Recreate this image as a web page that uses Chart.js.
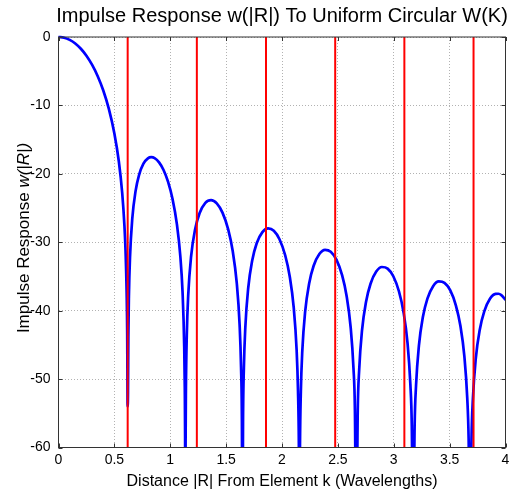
<!DOCTYPE html>
<html><head><meta charset="utf-8">
<script src="https://cdn.jsdelivr.net/npm/chart.js@4/dist/chart.umd.min.js"></script>
<style>html,body{margin:0;padding:0;background:#fff}#wrap{width:514px;height:495px;position:relative}</style>
</head><body><div id="wrap"><canvas id="c"></canvas></div>
<script>
// Distance |R| (wavelengths) and impulse response w(|R|) in dB
const distance = [
0, 0.05, 0.1, 0.15, 0.2, 0.25, 0.3, 0.35, 0.4, 0.45, 0.5, 0.54, 0.57, 0.59, 0.6, 0.61, 0.615, 0.6185,
0.622, 0.625, 0.63, 0.64, 0.66, 0.69, 0.72, 0.76, 0.8, 0.83, 0.86, 0.9, 0.94, 0.98, 1.02, 1.06, 1.09, 1.11, 1.125, 1.13, 1.133, 1.1352,
1.1373, 1.1403, 1.148, 1.1608, 1.1863, 1.2221, 1.263, 1.3141, 1.3652, 1.4163, 1.4674, 1.5185, 1.5593, 1.5951, 1.6207, 1.6334, 1.6411, 1.6462,
1.6513, 1.6589, 1.6717, 1.6972, 1.7329, 1.7736, 1.8246, 1.8756, 1.9266, 1.9775, 2.0285, 2.0693, 2.105, 2.1305, 2.1432, 2.1509, 2.1559,
2.161, 2.1687, 2.1814, 2.2069, 2.2425, 2.2832, 2.3342, 2.3851, 2.436, 2.4869, 2.5378, 2.5786, 2.6142, 2.6397, 2.6524, 2.6651,
2.6779, 2.6906, 2.716, 2.7517, 2.7924, 2.8433, 2.8942, 2.9451, 2.996, 3.0469, 3.0876, 3.1232, 3.1486, 3.1614, 3.1741,
3.1868, 3.1995, 3.225, 3.2606, 3.3013, 3.3522, 3.403, 3.4539, 3.5048, 3.5557, 3.5964, 3.632, 3.6574, 3.6701, 3.6829,
3.6956, 3.7083, 3.7337, 3.7693, 3.81, 3.8609, 3.9118, 3.9372, 3.9626, 4.0
];
const responseDb = [
0, -0.10, -0.42, -0.95, -1.72, -2.74, -4.05, -5.70, -7.79, -10.48, -14.10, -18.20, -22.78, -27.58, -31.29, -37.50, -43.61, -54.0,
-51.80, -43.88, -37.95, -32.15, -26.59, -22.49, -20.21, -18.52, -17.74, -17.57, -17.70, -18.32, -19.44, -21.15, -23.65, -27.43, -32.01, -37.25, -45.24, -51.16, -58.65, -75,
-59.37, -51.44, -43.58, -37.73, -32.10, -28.15, -25.72, -24.23, -23.83, -24.31, -25.67, -28.12, -31.32, -35.95, -42.07, -48.17, -56.18, -75,
-56.27, -48.37, -42.48, -36.76, -32.70, -30.15, -28.51, -27.97, -28.32, -29.56, -31.90, -35.01, -39.57, -45.64, -51.71, -59.71, -75,
-59.77, -51.86, -45.95, -40.18, -36.06, -33.44, -31.72, -31.10, -31.38, -32.54, -34.81, -37.88, -42.39, -48.43, -54.49, -75,
-54.61, -48.68, -42.89, -38.72, -36.06, -34.29, -33.62, -33.85, -34.97, -37.20, -40.22, -44.71, -50.73, -56.78, -75,
-56.88, -50.94, -45.13, -40.93, -38.24, -36.43, -35.73, -35.93, -37.01, -39.21, -42.21, -46.68, -52.68, -58.72, -75,
-58.81, -52.86, -47.04, -42.82, -40.11, -38.27, -37.55, -37.53, -37.72, -38.40
];
// Red vertical marker lines (distance, wavelengths)
const markerDistance = [0.619, 1.238, 1.857, 2.476, 3.095, 3.714];
// Axis ticks
const xTickValues = [0, 0.5, 1, 1.5, 2, 2.5, 3, 3.5, 4];
const yTickValues = [0, -10, -20, -30, -40, -50, -60];
// Texts
const titleText = 'Impulse Response w(|R|) To Uniform Circular W(K)';
const xTitleText = 'Distance |R| From Element k (Wavelengths)';
const yTitleParts = ['Impulse Response ', 'w(|R|)'];

const FONT = "'Liberation Sans', Arial, Helvetica, sans-serif";

const datasets = [];
markerDistance.forEach(r => datasets.push({
  data: [{x: r, y: 0}, {x: r, y: -60}],
  borderColor: '#ff0000', borderWidth: 2, pointRadius: 0, fill: false, order: 1, clip: 0
}));
datasets.push({
  data: distance.map((r, i) => ({x: r, y: responseDb[i]})),
  borderColor: '#0000ff', borderWidth: 2.7, pointRadius: 0, fill: false,
  cubicInterpolationMode: 'monotone', borderJoinStyle: 'round', borderCapStyle: 'round',
  order: 2, clip: {left: 0, right: 0, top: 3, bottom: 0}
});

const decor = {
  id: 'decor',
  afterDraw(chart) {
    const {ctx, chartArea: a, scales: {x, y}} = chart;
    ctx.save();
    ctx.strokeStyle = '#333';
    ctx.lineWidth = 1;
    ctx.setLineDash([]);
    ctx.strokeRect(a.left, a.top, a.right - a.left, a.bottom - a.top);
    ctx.beginPath();
    xTickValues.forEach(v => {
      const px = Math.round(x.getPixelForValue(v)) + 0.5;
      ctx.moveTo(px, a.bottom); ctx.lineTo(px, a.bottom - 4);
      ctx.moveTo(px, a.top); ctx.lineTo(px, a.top + 4);
    });
    yTickValues.forEach(v => {
      const py = Math.round(y.getPixelForValue(v)) + 0.5;
      ctx.moveTo(a.left, py); ctx.lineTo(a.left + 4, py);
      ctx.moveTo(a.right, py); ctx.lineTo(a.right - 4, py);
    });
    ctx.stroke();

    ctx.fillStyle = '#000';
    ctx.textBaseline = 'alphabetic';
    ctx.textAlign = 'center';
    const cx = (a.left + a.right) / 2;
    ctx.font = '20px ' + FONT;
    ctx.fillText(titleText, cx, 21.5);
    ctx.font = '16px ' + FONT;
    ctx.fillText(xTitleText, cx, 486);

    ctx.translate(29, 238);
    ctx.rotate(-Math.PI / 2);
    ctx.textAlign = 'left';
    const f1 = '17px ' + FONT, f2 = 'italic 17px ' + FONT;
    ctx.font = f1; const w1 = ctx.measureText(yTitleParts[0]).width;
    ctx.font = f2; const w2 = ctx.measureText(yTitleParts[1]).width;
    const start = -(w1 + w2) / 2;
    ctx.font = f1; ctx.fillText(yTitleParts[0], start, 0);
    ctx.font = f2; ctx.fillText(yTitleParts[1], start + w1, 0);
    ctx.restore();
  }
};

const gridOpts = {color: 'rgba(0,0,0,0.3)', lineWidth: 1, drawTicks: false};

new Chart(document.getElementById('c'), {
  type: 'line',
  data: {datasets},
  options: {
    responsive: true, maintainAspectRatio: false, animation: false, devicePixelRatio: 1,
    layout: {padding: {top: 37, right: 8.5, left: 0, bottom: 0}},
    plugins: {legend: {display: false}, title: {display: false}, tooltip: {enabled: false}},
    scales: {
      x: {
        type: 'linear', min: 0, max: 4,
        afterBuildTicks: s => { s.ticks = xTickValues.map(v => ({value: v})); },
        afterFit: s => { s.height = 47.5; },
        grid: gridOpts,
        border: {display: false, dash: [1, 2]},
        ticks: {color: '#000', font: {family: FONT, size: 14}, padding: 4, maxRotation: 0, autoSkip: false,
                callback: v => String(v)}
      },
      y: {
        type: 'linear', min: -60, max: 0,
        afterBuildTicks: s => { s.ticks = yTickValues.map(v => ({value: v})); },
        afterFit: s => { s.width = 58.5; },
        grid: gridOpts,
        border: {display: false, dash: [1, 2]},
        ticks: {color: '#000', font: {family: FONT, size: 14}, padding: 8, autoSkip: false,
                callback: v => String(v)}
      }
    }
  },
  plugins: [decor]
});
</script>
</body></html>
